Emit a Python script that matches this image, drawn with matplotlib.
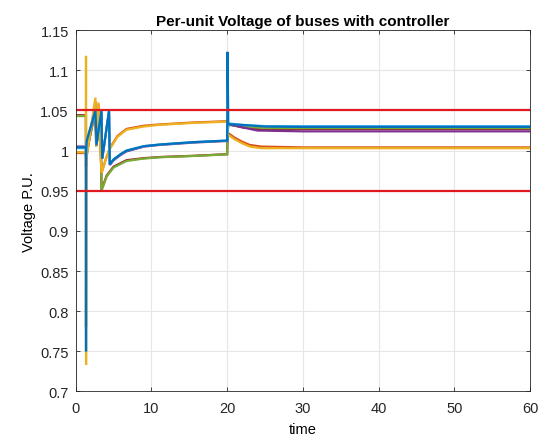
import matplotlib
matplotlib.use("Agg")
import matplotlib.pyplot as plt

plt.rcParams['font.family'] = ['Liberation Sans', 'DejaVu Sans']

# ---- data ----
t_blue = [0, 1.35, 1.36, 1.37, 1.45, 2.6, 2.75, 3.4, 3.5, 4.4, 4.5, 5.0, 6.0, 6.7, 9.0, 11.0, 15.5, 20.0, 20.05, 20.15, 22.0, 25.0, 30.0, 60.0]
v_blue = [1.004, 1.004, 0.75, 1.0, 1.012, 1.05, 1.008, 1.05, 0.99, 1.05, 0.983, 0.989, 0.996, 1.0, 1.0055, 1.0075, 1.0105, 1.0125, 1.123, 1.033, 1.032, 1.030, 1.0295, 1.0295]

t_orange = [0, 1.35, 1.36, 1.40, 2.6, 2.7, 3.0, 3.4, 4.0, 4.5, 5.5, 6.7, 9.0, 11.0, 15.5, 20.0, 20.1, 21.0, 22.0, 23.0, 24.5, 30.0, 60.0]
v_orange = [0.997, 0.997, 0.78, 0.99, 1.062, 1.02, 1.058, 0.972, 0.99, 1.003, 1.018, 1.027, 1.031, 1.0325, 1.035, 1.0366, 1.022, 1.016, 1.011, 1.007, 1.005, 1.004, 1.004]

t_yellow = [0, 1.35, 1.36, 1.37, 1.38, 1.40, 2.6, 2.7, 3.0, 3.4, 4.0, 4.5, 5.5, 6.7, 9.0, 11.0, 15.5, 20.0, 20.1, 21.0, 22.0, 23.0, 24.5, 30.0, 60.0]
v_yellow = [0.998, 0.998, 1.118, 0.733, 0.98, 0.99, 1.066, 1.02, 1.06, 0.972, 0.99, 1.002, 1.017, 1.026, 1.030, 1.032, 1.0345, 1.036, 1.020, 1.014, 1.009, 1.005, 1.003, 1.003, 1.003]

t_purple = [0, 1.35, 1.36, 1.45, 2.6, 2.75, 3.4, 3.5, 4.4, 4.5, 5.0, 6.0, 6.7, 9.0, 11.0, 15.5, 20.0, 20.15, 22.0, 24.0, 30.0, 60.0]
v_purple = [1.005, 1.005, 0.98, 1.01, 1.05, 1.007, 1.048, 0.99, 1.048, 0.982, 0.988, 0.995, 0.999, 1.005, 1.007, 1.010, 1.012, 1.033, 1.029, 1.025, 1.024, 1.024]

t_green = [0, 1.35, 1.36, 1.45, 2.6, 2.7, 3.3, 3.4, 4.1, 5.0, 6.7, 8.9, 11.1, 15.5, 20.0, 20.1, 22.0, 25.0, 60.0]
v_green = [1.043, 1.043, 0.993, 0.998, 1.05, 1.005, 1.05, 0.95, 0.968, 0.979, 0.987, 0.990, 0.9917, 0.9933, 0.9954, 1.032, 1.030, 1.028, 1.028]

t_teal = [0, 1.35, 1.36, 1.45, 2.6, 2.75, 3.4, 3.5, 4.4, 4.5, 5.0, 6.0, 6.7, 9.0, 11.0, 15.5, 20.0, 20.15, 22.0, 25.0, 60.0]
v_teal = [1.003, 1.003, 0.99, 1.012, 1.05, 1.008, 1.05, 0.99, 1.05, 0.983, 0.989, 0.996, 1.0, 1.0055, 1.0075, 1.0105, 1.0125, 1.034, 1.032, 1.0305, 1.0305]

t_red = [0, 1.35, 1.36, 1.45, 2.6, 2.7, 3.3, 3.4, 4.1, 5.0, 6.7, 8.9, 11.1, 15.5, 20.0, 20.1, 22.0, 24.0, 30.0, 60.0]
v_red = [1.044, 1.044, 0.994, 0.999, 1.049, 1.006, 1.049, 0.951, 0.969, 0.98, 0.988, 0.9905, 0.992, 0.9935, 0.9955, 1.033, 1.029, 1.027, 1.027, 1.027]

series = [
    (t_blue, v_blue, '#0072BD'),
    (t_orange, v_orange, '#D95319'),
    (t_yellow, v_yellow, '#EDB120'),
    (t_purple, v_purple, '#7E2F8E'),
    (t_green, v_green, '#77AC30'),
    (t_red, v_red, '#A2142F'),
    (t_teal, v_teal, '#4DBEEE'),
]
draw_order = [5, 4, 3, 1, 2, 6, 0]

limits_t = [0, 60]
upper_limit = [1.05, 1.05]
lower_limit = [0.95, 0.95]

xticks = [0, 10, 20, 30, 40, 50, 60]
yticks = [0.7, 0.75, 0.8, 0.85, 0.9, 0.95, 1.0, 1.05, 1.1, 1.15]
ytick_labels = ['0.7', '0.75', '0.8', '0.85', '0.9', '0.95', '1', '1.05', '1.1', '1.15']

# ---- figure ----
fig = plt.figure(figsize=(5.51, 4.39), dpi=100)
ax = fig.add_axes([0.1374, 0.106, 0.962 - 0.1374, 0.929 - 0.106])

for i in draw_order:
    t, v, c = series[i]
    ax.plot(t, v, color=c, lw=1.6, solid_joinstyle='miter')

ax.plot(limits_t, upper_limit, color='#E0191E', lw=1.6)
ax.plot(limits_t, lower_limit, color='#E0191E', lw=1.6)

ax.set_xlim(0, 60)
ax.set_ylim(0.7, 1.15)
ax.set_xticks(xticks)
ax.set_yticks(yticks)
ax.set_yticklabels(ytick_labels)
ax.grid(True, color='#e6e6e6', lw=0.8)
ax.set_axisbelow(True)
for s in ax.spines.values():
    s.set_color('#262626')
    s.set_linewidth(0.6)
ax.tick_params(direction='in', length=3, width=0.6, colors='#262626', labelsize=10.5,
               top=True, right=True)
ax.tick_params(axis='x', pad=7)
ax.tick_params(axis='y', pad=5)

ax.set_title('Per-unit Voltage of buses with controller', fontsize=11, fontweight='bold', pad=4)
ax.set_xlabel('time', fontsize=10.5, labelpad=5)
ax.set_ylabel('Voltage P.U.', fontsize=10.5, labelpad=3)

fig.savefig('out.png', dpi=100, facecolor='white')
